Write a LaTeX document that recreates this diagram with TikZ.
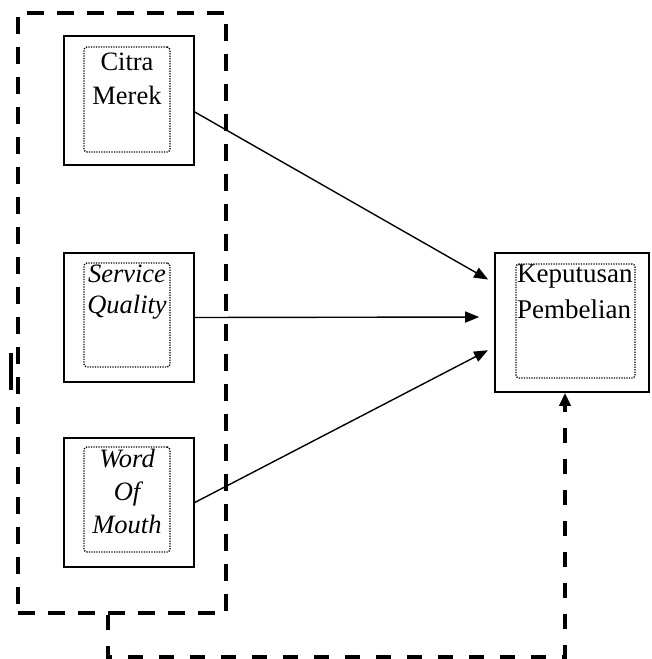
\documentclass[tikz,border=0pt]{standalone}
\usepackage{fontspec}
\setmainfont{Liberation Serif}
\usetikzlibrary{arrows.meta}
\begin{document}
\begin{tikzpicture}[x=1pt,y=-1pt,
  outerbox/.style={draw,line width=1.6pt,minimum width=130pt,minimum height=129pt,inner sep=0pt},
  innerbox/.style={draw,line width=1.4pt,dash pattern=on 1.2pt off 1.3pt,rounded corners=3pt,minimum width=86pt,minimum height=105pt,inner sep=0pt},
  lbl/.style={inner sep=0pt,align=center,font=\fontsize{26.5}{34}\selectfont},
  grpbox/.style={draw,line width=4pt,dash pattern=on 17pt off 13pt,minimum width=208pt,minimum height=600pt,inner sep=0pt},
  arr/.style={line width=1.4pt,-{Triangle[length=14pt,width=11pt]},shorten >=7pt},
  conn/.style={line width=3.5pt,dash pattern=on 15pt off 16pt,-{Triangle[length=13pt,width=11pt]}}]
\useasboundingbox (0,0) rectangle (651,659);
% group box
\node[grpbox] (grp) at (122,313) {};
\draw[line width=4pt] (11,353) -- (11,390);
% left boxes
\node[outerbox] (cm) at (129,100.5) {};
\node[innerbox] (cmi) at (127,99.5) {};
\node[lbl,anchor=north] (cmt) at (127,53) {Citra\\Merek};
\node[outerbox] (sq) at (129,317.5) {};
\node[innerbox,minimum height=104pt] (sqi) at (127,315) {};
\node[lbl,anchor=north,font=\fontsize{26.5}{31}\selectfont\itshape] (sqt) at (127,265) {Service\\Quality};
\node[outerbox] (wm) at (129,502.5) {};
\node[innerbox] (wmi) at (127,499.5) {};
\node[lbl,anchor=north,font=\fontsize{26.5}{33}\selectfont\itshape] (wmt) at (127,449) {Word\\Of\\Mouth};
% right box
\node[outerbox,minimum width=154pt,minimum height=139pt] (kp) at (572,322.5) {};
\node[innerbox,minimum width=119pt,minimum height=114pt] (kpi) at (575.5,321) {};
\node[lbl,anchor=north west,align=left,font=\fontsize{27}{36}\selectfont] (kpt) at (517,265) {Keputusan\\Pembelian};
% arrows
\draw[arr] ([yshift=-11.5pt]cm.east) -- ([yshift=39.5pt]kp.west);
\draw[arr,shorten >=15pt] (sq.east) -- ([yshift=5.5pt]kp.west);
\draw[arr] (wm.east) -- ([yshift=-24.5pt]kp.west);
% feedback connector
\draw[conn] ([xshift=-14pt]grp.south) -- ++(0,42) -| ([xshift=-7pt]kp.south);
\end{tikzpicture}
\end{document}
